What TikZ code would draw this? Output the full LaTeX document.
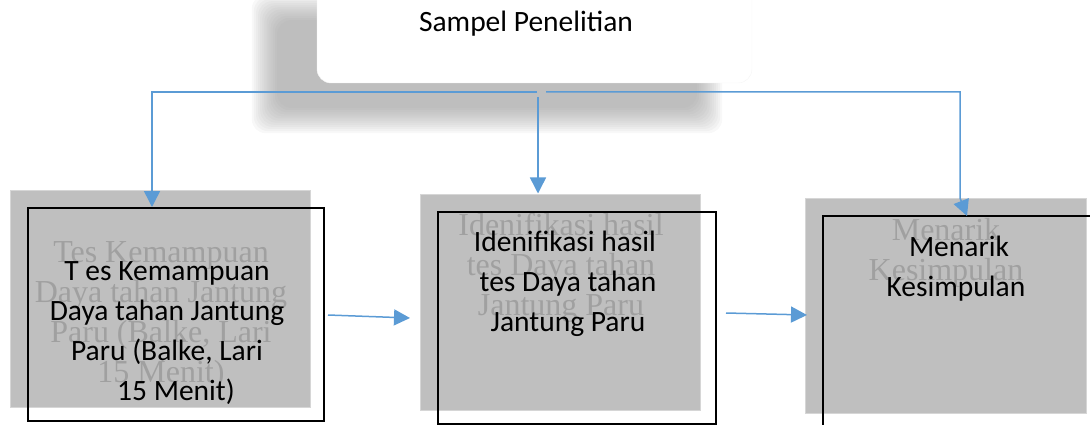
\documentclass[tikz,border=0pt]{standalone}
\usepackage{fontspec}
\setmainfont{Carlito}
\newfontfamily\ghostfont{Liberation Serif}
\usetikzlibrary{arrows.meta}
\definecolor{arrowblue}{HTML}{5B9BD5}
\definecolor{boxgray}{HTML}{BFBFBF}
\definecolor{ghostgray}{HTML}{A0A0A0}
\definecolor{boxedge}{HTML}{D6D6D6}
\definecolor{shadowgray}{HTML}{888888}
\begin{document}
\begin{tikzpicture}[x=1pt,y=-1pt,
  conn/.style={draw=arrowblue, line width=1.5pt},
  arr/.style={conn, -{Triangle[length=16pt,width=16pt]}},
  graybox/.style={draw=boxedge, fill=boxgray, line width=1pt, inner sep=0, minimum width=#1},
  frame/.style={draw=black, line width=2pt, inner sep=0},
  btext/.style={font=\fontsize{29.5}{40}\selectfont, align=center, inner sep=0},
  gtext/.style={font=\ghostfont\fontsize{32}{40}\selectfont, text=ghostgray, align=center, inner sep=0}]
\useasboundingbox (0,0) rectangle (1090,425);
\clip (0,0) rectangle (1090,425);
% shadow of top box
\foreach \k in {0,...,12}{
  \fill[shadowgray, opacity=0.06, rounded corners=14pt]
    (277-\k*2.1,20-\k*2.1) rectangle (697+\k*2.1,108+\k*2.1);
}
% top box
\node[draw=gray!8, fill=white, rounded corners=14pt, minimum width=435pt, minimum height=113pt, inner sep=0] (top) at (534.5,26.5) {};
\node[btext] (toptext) at (526,24) {Sampel Penelitian};
% gray boxes
\node[graybox=300pt, minimum height=217pt] (g1) at (160,298.5) {};
\node[graybox=280pt, minimum height=216pt] (g2) at (560,302) {};
\node[graybox=281pt, minimum height=215pt] (g3) at (945.5,305.5) {};
% ghost texts
\node[gtext] (q1) at (161,315) {Tes Kemampuan\\Daya tahan Jantung\\Paru (Balke, Lari\\15 Menit)};
\node[gtext] (q2) at (561,268) {Idenifikasi hasil\\tes Daya tahan\\Jantung Paru};
\node[gtext] (q3) at (946,253) {Menarik\\Kesimpulan};
% black frames
\node[frame, minimum width=296pt, minimum height=213pt] (f1) at (176,314.5) {};
\node[frame, minimum width=278pt, minimum height=212pt] (f2) at (577,318) {};
\node[frame, minimum width=290pt, minimum height=230pt] (f3) at (968,331) {};
% black texts
\node[btext] (t1) at (167,333) {T es Kemampuan\\Daya tahan Jantung\\Paru (Balke, Lari\hspace*{8pt}\\\hspace*{18pt}15 Menit)};
\node[btext] (t2) at (568,284) {Idenifikasi hasil\hspace*{6pt}\\tes Daya tahan\\Jantung Paru};
\node[btext] (t3) at (956,269) {\hspace*{6pt}Menarik\\Kesimpulan};
% connectors
\coordinate (jl) at (152,92);
\coordinate (jm) at (538,97);
\coordinate (jr) at (960,92);
\draw[arr] (537,92) -- (jl) -- (jl |- f1.north);
\draw[arr] (546,92) -- (jr) -- (960,198) -- (967,216);
\draw[arr] (jm) -- (jm |- g2.north);
\coordinate (a1s) at (328,315);
\coordinate (a1e) at (410,318);
\coordinate (a2s) at (726,313);
\coordinate (a2e) at (807,315);
\draw[arr] (a1s) -- (a1e);
\draw[arr] (a2s) -- (a2e);
\end{tikzpicture}
\end{document}
